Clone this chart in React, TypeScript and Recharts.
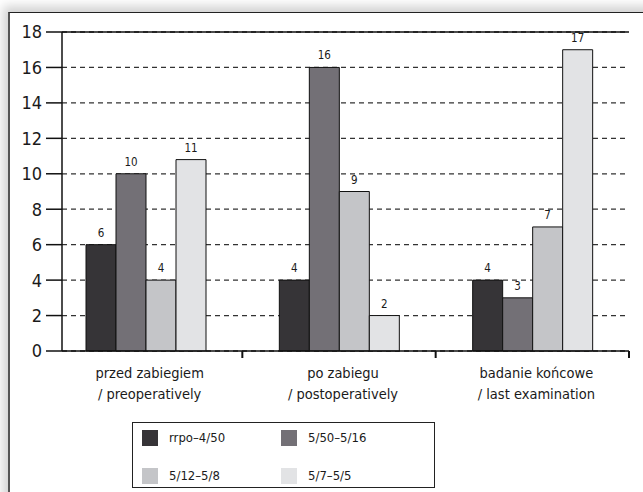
import { BarChart, Bar, XAxis, YAxis, CartesianGrid, Legend, LabelList, ReferenceLine } from "recharts";

const categories = ["przed zabiegiem", "po zabiegu", "badanie końcowe"];
const categoriesEn = ["/ preoperatively", "/ postoperatively", "/ last examination"];

const seriesNames = ["rrpo–4/50", "5/50–5/16", "5/12–5/8", "5/7–5/5"];
const seriesA = [6, 4, 4];
const seriesB = [10, 16, 3];
const seriesC = [4, 9, 7];
const seriesD = [10.8, 2, 17];
// printed labels (the 11 bar is drawn a bit short in the original)
const labelsD = [11, 2, 17];

const yTicks = [0, 2, 4, 6, 8, 10, 12, 14, 16, 18];

const colors = ["#363437", "#737076", "#c4c5c8", "#e2e3e5"];
const font = "'DejaVu Sans Condensed', 'Liberation Sans Narrow', sans-serif";

const data = categories.map((name, i) => ({
  name,
  a: seriesA[i],
  b: seriesB[i],
  c: seriesC[i],
  d: seriesD[i],
  dLabel: labelsD[i],
}));

// label under the group plus a small tick at the right edge of the band
const CategoryTick = (props: any) => {
  const { x, y, payload } = props;
  const idx = payload.index ?? categories.indexOf(payload.value);
  const edge = x + (payload.offset || 0);
  return (
    <g>
      <line x1={edge} x2={edge} y1={y} y2={y + 7} stroke="#111" strokeWidth={2} />
      <text x={x + 4} y={y} textAnchor="middle" fill="#1a1a1a" fontSize={14.5} fontFamily={font}>
        <tspan x={x + 4} dy={27}>{payload.value}</tspan>
        <tspan x={x + 4} dy={21}>{categoriesEn[idx]}</tspan>
      </text>
    </g>
  );
};

const LegendBox = (props: any) => {
  const items = [...(props.payload || [])].sort(
    (p: any, q: any) => seriesNames.indexOf(p.value) - seriesNames.indexOf(q.value)
  );
  return (
    <div
      style={{
        width: 303,
        height: 66,
        border: "1.5px solid #222",
        boxSizing: "border-box",
        display: "grid",
        gridTemplateColumns: "139px 150px",
        gridTemplateRows: "38px 28px",
        paddingLeft: 9,
        fontFamily: font,
        fontSize: 13,
        color: "#1a1a1a",
      }}
    >
      {items.map((it: any) => (
        <div key={it.value} style={{ display: "flex", alignItems: "flex-start", paddingTop: 7 }}>
          <span style={{ width: 16, height: 16, background: it.color, display: "inline-block", marginRight: 11 }} />
          <span style={{ lineHeight: "15px" }}>{it.value}</span>
        </div>
      ))}
    </div>
  );
};

const labelStyle = { fontSize: 11.5, fill: "#1a1a1a", fontFamily: font };

export default function App() {
  return (
    <div style={{ position: "absolute", left: 0, top: 0, width: 643, height: 492, overflow: "hidden", background: "#fff" }}>
      <div
        style={{
          position: "absolute",
          left: 8,
          top: 12,
          width: 700,
          height: 600,
          borderLeft: "2px solid #555",
          borderTop: "1.5px solid #222",
          boxShadow: "-5px -6px 10px rgba(0,0,0,0.18)",
          background: "#fff",
        }}
      />
      <div style={{ position: "absolute", left: 0, top: 0 }}>
        <BarChart
          width={643}
          height={492}
          data={data}
          margin={{ top: 32, right: 14, left: 0, bottom: 81 }}
          barSize={30}
          barGap={0}
        >
          <CartesianGrid vertical={false} stroke="#333" strokeDasharray="5 4" strokeWidth={1.3} />
          <XAxis
            dataKey="name"
            padding={{ left: -13, right: 0 }}
            height={60}
            tickSize={0}
            tickMargin={0}
            axisLine={{ stroke: "#111", strokeWidth: 1.5 }}
            tickLine={false}
            tick={<CategoryTick />}
            interval={0}
          />
          <YAxis
            domain={[0, 18]}
            ticks={yTicks}
            width={62}
            tickSize={16}
            tickMargin={4}
            interval={0}
            stroke="#111"
            axisLine={{ stroke: "#111", strokeWidth: 1.5 }}
            tickLine={{ stroke: "#111", strokeWidth: 1.5 }}
            tick={{ fontSize: 18, fill: "#1a1a1a", fontFamily: font }}
          />
          <ReferenceLine y={18} stroke="#111" strokeWidth={1.5} />
          <Legend
            verticalAlign="middle"
            align="center"
            content={<LegendBox />}
            wrapperStyle={{ position: "absolute", left: 132, top: 422, width: 303 }}
          />
          <Bar dataKey="a" name={seriesNames[0]} fill={colors[0]} stroke="#111" strokeWidth={1} isAnimationActive={false}>
            <LabelList dataKey="a" position="top" offset={8} style={labelStyle} />
          </Bar>
          <Bar dataKey="b" name={seriesNames[1]} fill={colors[1]} stroke="#111" strokeWidth={1} isAnimationActive={false}>
            <LabelList dataKey="b" position="top" offset={8} style={labelStyle} />
          </Bar>
          <Bar dataKey="c" name={seriesNames[2]} fill={colors[2]} stroke="#111" strokeWidth={1} isAnimationActive={false}>
            <LabelList dataKey="c" position="top" offset={8} style={labelStyle} />
          </Bar>
          <Bar dataKey="d" name={seriesNames[3]} fill={colors[3]} stroke="#111" strokeWidth={1} isAnimationActive={false}>
            <LabelList dataKey="dLabel" position="top" offset={8} style={labelStyle} />
          </Bar>
        </BarChart>
      </div>
    </div>
  );
}
